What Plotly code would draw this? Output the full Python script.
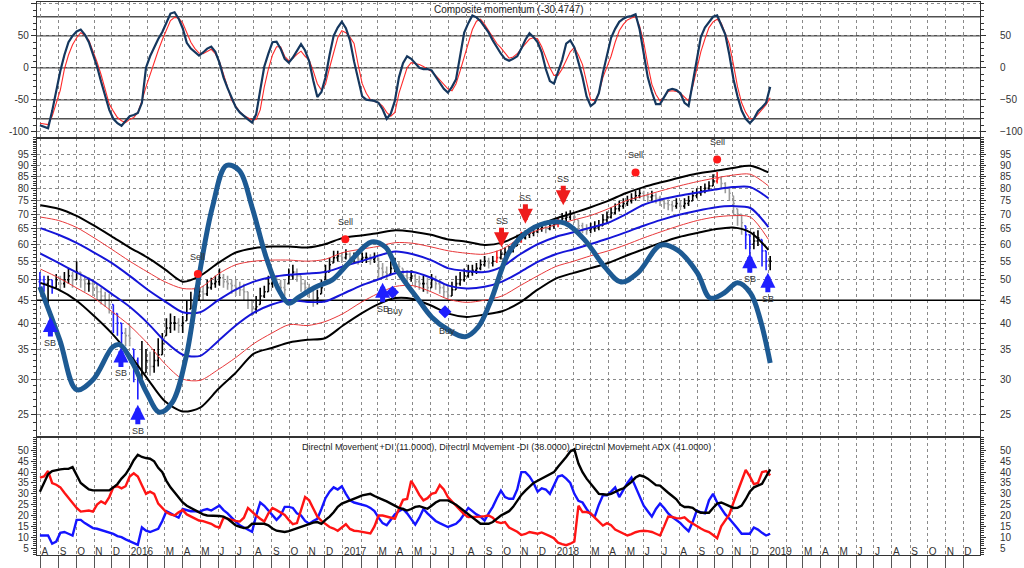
import numpy as np
import pandas as pd
import plotly.graph_objects as go

FONT = "Liberation Sans, Arial, sans-serif"

# ---------------- time axes ----------------
WEEKS = pd.date_range("2015-07-31", periods=180, freq="7D")
BAND_MONTHS = pd.date_range("2015-08-01", "2019-01-01", freq="MS")
AXIS_MONTHS = pd.date_range("2015-08-01", "2019-12-01", freq="MS")
MONTH_LETTERS = ["J", "F", "M", "A", "M", "J", "J", "A", "S", "O", "N", "D"]
X_RANGE = ["2015-07-26", "2019-12-30"]

# ---------------- composite momentum ----------------
MOM = [-90, -92, -95, -68, -35, -5, 20, 40, 50, 57,
       60, 52, 40, 22, 2, -22, -46, -66, -80, -87,
       -91, -83, -76, -74, -71, -55, 0, 18, 33, 45,
       56, 70, 85, 87, 77, 62, 39, 30, 24, 19,
       24, 30, 33, 25, 8, -15, -32, -48, -62, -70,
       -76, -81, -86, -73, -35, 2, 22, 40, 41, 30,
       14, 8, 16, 27, 37, 27, 10, -20, -46, -38,
       -15, 20, 50, 63, 72, 62, 43, 10, -20, -45,
       -50, -51, -52, -55, -65, -80, -72, -52, -15, 7,
       18, 14, 7, 0, -2, -2, -4, -14, -24, -33,
       -39, -30, -18, 20, 55, 70, 82, 79, 73, 64,
       55, 43, 32, 22, 14, 11, 14, 18, 30, 44,
       54, 48, 40, 24, -2, -21, -25, -5, 12, 38,
       43, 32, 8, -15, -45, -60, -55, -40, -8, 18,
       47, 61, 72, 77, 80, 81, 84, 60, 20, -15,
       -38, -57, -57, -47, -35, -33, -35, -40, -55, -60,
       -25, 8, 48, 63, 72, 80, 82, 68, 52, 20,
       -18, -45, -67, -80, -87, -80, -68, -62, -55, -30]
MOM_SIGNAL = [-87, -88, -89, -76, -57, -35, -2, 20, 36, 47,
              55, 51, 43, 27, 9, -11, -35, -57, -68, -78,
              -83, -86, -81, -78, -70, -52, -30, -10, 10, 27,
              44, 60, 74, 79, 78, 70, 54, 40, 30, 23,
              22, 26, 29, 22, 10, -10, -30, -51, -60, -69,
              -75, -79, -82, -81, -66, -30, -2, 20, 33, 33,
              18, 11, 15, 21, 26, 18, 12, -5, -25, -35,
              -26, 0, 25, 47, 58, 55, 48, 38, 5, -25,
              -40, -50, -53, -55, -60, -70, -76, -70, -40, -18,
              0, 8, 7, 5, 2, -2, -6, -12, -19, -27,
              -33, -36, -25, -5, 18, 40, 60, 73, 76, 68,
              58, 48, 38, 31, 22, 15, 17, 22, 30, 38,
              45, 47, 45, 33, 15, 0, -12, -12, -2, 11,
              25, 32, 20, 5, -25, -50, -52, -40, -15, 2,
              18, 40, 58, 68, 75, 78, 80, 65, 40, 5,
              -26, -42, -52, -46, -37, -36, -37, -40, -46, -52,
              -30, 0, 25, 45, 63, 72, 76, 70, 55, 37,
              5, -30, -55, -70, -80, -80, -73, -65, -58, -47]
MOM_LEVELS = [80, 50, 0, -50, -80]
MOM_TITLE = "Composite momentum (-30.4747)"

# ---------------- weekly price bars ----------------
OPEN = [49.5, 50, 49, 50, 48, 50, 49, 50, 51, 50,
        52, 50, 49, 49, 48, 47, 46, 45, 44, 42,
        40, 38, 37.5, 35, 33, 30, 31, 33, 32, 33,
        34, 37.5, 39, 40, 40, 39.5, 40.5, 43, 45, 46,
        47, 46.5, 48, 49, 49.5, 50.5, 49.5, 49, 48.5, 48,
        47.5, 47, 45, 43, 44, 46, 47, 49, 50, 49,
        48, 49, 51, 52, 51, 49, 48, 47.5, 45, 46.5,
        50, 52, 54.5, 56, 56.5, 56, 57, 56, 56, 55.5,
        56, 56, 55.5, 56, 53, 52, 51.5, 53, 54, 53,
        51, 50.5, 51, 49.5, 49, 49, 48, 50, 49, 48,
        47, 46, 47.5, 49, 50, 51, 52, 52.5, 53, 54,
        55, 54.5, 55, 56, 57, 57.5, 58, 59.5, 61, 62,
        63, 63.5, 64, 65, 65.5, 65, 66, 66.5, 67, 68.5,
        69, 70, 68, 66, 65, 64.5, 65, 65.5, 66, 68,
        69, 70.5, 72, 73, 74, 75, 76, 77, 78, 77,
        76.5, 77, 76, 75, 74, 73.5, 73, 74, 73, 74,
        75, 77, 78, 79, 80, 81, 83, 84, 82, 80,
        77, 72, 70, 66, 63, 60, 61, 61.5, 58, 55]
HIGH = [52, 51, 51, 50, 51.5, 51, 52, 53, 52, 55,
        52, 51, 50.5, 50, 49, 48, 47, 46.5, 44, 42,
        40, 39, 39.5, 35, 33.5, 36.5, 35, 34.5, 35, 37,
        38, 41, 42, 41.5, 41, 41.5, 45, 47, 48, 49,
        48.5, 50, 50.5, 51, 53, 51.5, 51, 50, 50, 49.5,
        49, 47, 45, 46, 48, 48.5, 51, 52, 51, 50,
        50, 53, 54, 53, 51, 50, 49, 47.5, 47.5, 50,
        54, 56, 58, 58, 57.5, 58.5, 57.5, 57.5, 57, 57.5,
        57.5, 57, 57.5, 56, 54.5, 53.5, 55, 56, 55, 53,
        52.5, 52.5, 51.5, 51, 51, 50.5, 51.5, 51, 50, 49,
        48.5, 49.5, 51, 52, 53, 54, 54, 54.5, 55.5, 56.5,
        56, 56.5, 58, 58.5, 59, 59.5, 60.5, 63, 64, 64.5,
        65, 65.5, 66.5, 67, 66.5, 67.5, 68, 69, 70.5, 71,
        71.5, 70.5, 68, 67, 66.5, 67, 67.5, 68, 70, 71,
        72.5, 74, 75, 76, 77, 78, 79, 80, 79, 78.5,
        79, 78, 77, 75.5, 75.5, 75, 76, 75, 76, 77,
        79, 80, 81, 82, 83, 86, 87, 85, 82.5, 80.5,
        77, 72, 70, 66, 63, 64, 64.5, 61.5, 58, 56.5]
LOW = [47, 47, 43, 46.5, 48, 47, 48, 49, 48, 50,
       48, 47, 47, 46, 45, 44, 43.5, 42, 38, 37.5,
       36, 35.5, 35.5, 29.5, 27, 30, 31, 30.5, 31, 32,
       34, 37.5, 38, 38.5, 38, 38, 40.5, 43, 44.5, 45,
       45, 46, 47.5, 48, 48.5, 48, 47.5, 46.5, 46, 46,
       45, 43, 41.5, 42, 44, 45.5, 47, 48, 47.5, 46.5,
       46, 49, 50, 49.5, 47, 46.5, 45.5, 43.5, 44, 46.5,
       50, 52, 54.5, 55, 54.5, 55.5, 54.5, 54.5, 54, 54.5,
       54.5, 54, 54.5, 50.5, 50.5, 50, 51.5, 52, 52, 49.5,
       49, 49.5, 48, 47.5, 47, 46.5, 48, 47.5, 46.5, 45.5,
       45, 46, 47.5, 48.5, 49.5, 50.5, 51, 51.5, 52.5, 53.5,
       53, 53.5, 54.5, 55.5, 56, 56.5, 57.5, 59.5, 60.5, 61.5,
       62, 62.5, 63.5, 64, 63.5, 64.5, 65, 65.5, 67, 67.5,
       68, 67, 64, 63.5, 63, 63.5, 64, 64.5, 66, 67,
       68.5, 70, 71, 72, 73, 74, 75, 76, 75, 74.5,
       75, 74, 73, 72, 71.5, 71, 72, 71.5, 72, 73,
       75, 76, 77, 78, 79, 81, 82, 80, 78, 75,
       70, 66, 63, 58.5, 57, 58.5, 59.5, 53.5, 52.5, 52.5]
CLOSE = [50, 49, 50, 48, 50, 49, 50, 51, 50, 52,
         50, 49, 49, 48, 47, 46, 45, 44, 42, 40,
         38, 37.5, 37, 33, 30, 31, 33, 32, 33, 34,
         36, 39, 40, 40, 39.5, 40, 42, 45, 46, 47,
         46.5, 48, 49, 49.5, 50.5, 49.5, 49, 48.5, 48, 47.5,
         47, 45, 43, 43.5, 46, 47, 49, 50, 49, 48,
         47.5, 51, 52, 51, 49, 48, 47.5, 45, 45.5, 48,
         52, 54, 56, 56.5, 56, 57, 56, 56, 55.5, 56,
         56, 55.5, 56, 53, 52, 51.5, 53, 54, 53.5, 51,
         50.5, 51, 49.5, 49, 49, 48, 50, 49, 48, 47,
         46, 47.5, 49, 50, 51, 52, 52.5, 53, 54, 55,
         54.5, 55, 56, 57, 57.5, 58, 59, 61, 62, 63,
         63.5, 64, 65, 65.5, 65, 66, 66.5, 67, 68.5, 69,
         70, 69, 66, 65, 64.5, 65, 65.5, 66, 68, 69,
         70.5, 72, 73, 74, 75, 76, 77, 78, 77, 76.5,
         77, 76, 75, 74, 73.5, 73, 74, 73, 74, 75,
         77, 78, 79, 80, 81, 83, 84, 82, 80, 78,
         74, 70, 67, 63, 60, 61, 62, 58, 55, 55]
# bar state: k = up, g = down, b = buy zone, r = sell zone
BAR_STATE = ("bbkbkgkkgk" "ggkgggggbb" "bggbbkkgkk" "kkkkgkkkkk" "gkkkkggggg"
             "gggkkkkkgg" "gkkgggggkk" "kkkkgkgkgk" "kgkgggkkgg" "gkggkgkggg"
             "gkkkkkkkkk" "gkrkkkkkrk" "kkkkgkkrkk" "kggggkkkkk" "kkkkkkkkgg"
             "kgggggkgkk" "kkkkkkrggg" "gggbbkkbbk")

# ---------------- envelope bands (monthly) ----------------
BAND_OUTER_UP = [73.3, 72, 69.5, 66, 62.5, 59, 56, 52.8, 49.5, 51, 54.5, 57.5, 58.8, 59.3,
                 59.3, 59, 60, 62, 62.8, 63.5, 64.5, 64, 63, 61.5, 60.8, 59.8, 60.5, 63, 66,
                 68.5, 70.5, 72.5, 75, 78, 80.5, 82.5, 84.5, 86.3, 87.5, 88.8, 89.8, 86.8]
BAND_MID_UP = [69, 67.8, 65.5, 62, 58.5, 55, 52, 49.5, 47.8, 48, 51.5, 54, 55, 55.3, 55.3,
               55, 55.5, 57.5, 58.5, 59.3, 60.5, 60.3, 59.2, 58, 57.3, 57, 58.5, 62, 64.5,
               66.3, 68, 69.5, 72, 75, 77, 79, 81, 82.8, 84.3, 85.6, 86, 81]
BAND_IN_UP = [65.2, 63, 60.5, 57.5, 54.5, 51, 47.5, 44.8, 42.3, 42.3, 45, 47.5, 49.5, 50.7,
              51.3, 51.6, 52, 53.5, 55, 56.5, 57.8, 57, 55.3, 53, 52.3, 52, 53.5, 57, 60,
              62.3, 63.8, 65.3, 67, 70, 73.5, 75.5, 77, 78.3, 79.5, 80.5, 80.5, 76]
BAND_IN_LOW = [57.2, 54.5, 52, 49.5, 46.5, 43.5, 40, 36.5, 34, 33.8, 36.5, 39.5, 42.2, 44,
               45, 44.6, 44.7, 46.5, 48.5, 50, 51.7, 52, 50.5, 48.5, 47.8, 48.2, 49.5, 52,
               54.8, 57, 58.5, 60, 61.8, 63.8, 66, 68, 69.8, 71.3, 72.5, 73, 72.3, 65.5]
BAND_MID_LOW = [52.8, 50.5, 48, 45.5, 42.5, 39.5, 36, 32.5, 30, 29.8, 31.5, 33.5, 36, 38,
                39.7, 39.5, 40.3, 42, 44.5, 46.5, 48.3, 48.5, 47, 45.2, 44.5, 45, 46, 48.5,
                51, 53.5, 55, 56.5, 58, 59.8, 62, 64, 66, 67.8, 69, 69.5, 69, 61.5]
BAND_OUTER_LOW = [49.2, 47.5, 45, 41.5, 38, 34, 30, 26.8, 25.4, 25.9, 28.5, 31, 34.2, 35.2,
                  36.2, 36.7, 37, 39.5, 42, 44, 45.5, 45.3, 43.8, 42, 41.3, 41.8, 42.5, 44.5,
                  47.5, 50.3, 51.8, 53, 54.5, 56.5, 58.5, 60.5, 62.3, 63.6, 64.8, 65.4, 63.8, 58.3]

# ---------------- thick cycle curve ----------------
CYCLE_DATES = ["2015-07-31", "2015-09-03", "2015-10-02", "2015-10-30", "2015-12-03", "2015-12-15",
               "2016-01-06", "2016-01-30", "2016-02-21", "2016-03-14", "2016-04-07", "2016-04-30",
               "2016-05-22", "2016-06-15", "2016-07-07", "2016-07-29", "2016-08-22", "2016-09-13",
               "2016-09-30", "2016-10-18", "2016-11-16", "2016-12-13", "2017-01-11", "2017-02-19",
               "2017-03-15", "2017-04-06", "2017-05-11", "2017-06-02", "2017-07-01", "2017-07-30",
               "2017-08-21", "2017-09-12", "2017-10-12", "2017-11-10", "2017-12-14", "2018-01-17",
               "2018-02-20", "2018-03-26", "2018-04-23", "2018-05-22", "2018-06-30", "2018-07-29",
               "2018-09-01", "2018-09-23", "2018-10-17", "2018-11-09", "2018-12-01", "2018-12-18",
               "2019-01-04"]
CYCLE_VALUES = [48.2, 36.7, 28.4, 29.9, 35.4, 35.8, 32.6, 28.0, 25.3, 26.6, 33.7, 51.8,
                72.6, 90, 87.7, 72.6, 56.2, 47.4, 44.3, 45.8, 48.2, 49.9, 54.5, 60.7,
                59.1, 52, 45, 41.3, 38.6, 37.3, 39.2, 45, 57.3, 63.5, 66.9, 66.9,
                61.3, 53.4, 49.4, 51.8, 59.7, 58.2, 51.8, 45.5, 46.7, 49.2, 46.7, 40.7, 32.6]
BASE_LEVEL = 45

# ---------------- signals ----------------
SELL_DATES = ["2016-04-27", "2017-01-05", "2018-05-18", "2018-10-05"]
SELL_VALUES = [51.5, 61.6, 86.8, 92.8]
BUY_DATES = ["2017-03-27", "2017-06-25"]
BUY_VALUES = [46.9, 42.4]
SB_DATES = ["2015-08-18", "2015-12-17", "2016-01-15", "2017-03-10", "2018-11-30", "2018-12-31"]
SB_VALUES = [41.3, 35.3, 26.3, 49.2, 57.3, 51.8]
SS_DATES = ["2017-09-30", "2017-11-10", "2018-01-14"]
SS_VALUES = [59.1, 66.7, 73.3]

# ---------------- directional movement ----------------
ADX = [31, 35, 39, 40.5, 41, 41.3, 41.5, 41.5, 42.3, 38.5,
       35, 33.5, 32, 31.6, 31.6, 31.6, 31.6, 31.6, 33, 34.5,
       37, 39, 42, 45.5, 48, 47, 46.5, 46.2, 45, 42,
       40, 36, 33, 30.5, 28, 26, 24.5, 23.5, 22.5, 21.5,
       20.5, 20, 20, 20, 19.8, 19.5, 18.5, 17, 15.4, 14.8,
       14.2, 14.5, 16.2, 16.2, 16.2, 16.2, 15.5, 14, 13, 12.8,
       12.4, 12.8, 13.5, 14.2, 14.8, 15.4, 16, 16.7, 17, 16.2,
       18, 19.5, 21.5, 24, 25.5, 26.2, 26.8, 27.5, 28.5, 29.3,
       29.6, 30, 29, 28, 27.3, 26.5, 25.5, 24.6, 23.5, 23,
       22.3, 23, 24, 24.3, 23.8, 23.1, 24.5, 26, 27, 27,
       27, 26, 25, 23.5, 22, 20.5, 19, 17.5, 16.2, 16.2,
       16.2, 17, 18.5, 20, 21, 22, 24, 27, 29.5, 31.5,
       33.5, 35, 36, 37, 37.8, 38.7, 40, 42.5, 44.6, 47,
       49.5, 50.5, 44, 40, 37, 34.5, 32, 30, 29.8, 29.6,
       30, 31, 31.8, 32.5, 34, 35.5, 37.5, 38.5, 38, 37,
       35.5, 34, 33.8, 32, 30.5, 29, 27.5, 25, 23.9, 23.9,
       23.5, 22, 21.3, 21.3, 21.3, 23.5, 25.5, 26, 25.2, 24.5,
       23.5, 23.6, 24.6, 27.5, 31, 33, 33.8, 34.6, 38, 41.3]
PLUS_DI = [10.8, 10.8, 10.8, 7, 8, 12, 12.4, 11.6, 10.8, 18,
           18, 16.5, 15.4, 14.2, 13.9, 13.3, 13, 12.4, 11.5, 10.5,
           10, 9, 8.2, 7.2, 6.5, 14.5, 13, 12.4, 13, 13.9,
           17.5, 22, 21, 20, 19, 23, 22.5, 22, 22, 21.6,
           22.5, 23, 22.3, 23.5, 24.6, 22.5, 21, 19, 17, 15.5,
           14.5, 13.5, 12.5, 20, 26, 24.5, 22.5, 20, 18, 20,
           24, 24, 23.5, 21, 20, 17.5, 16.2, 17.5, 18.5, 23,
           28, 31, 33, 32, 33.5, 30, 27, 26, 25.5, 25,
           24.5, 23.5, 22, 19, 16.5, 15.5, 18, 20.5, 22, 23,
           21, 18.5, 15.8, 19, 23, 21, 19, 17.5, 16.5, 15.5,
           14.7, 15.5, 16.2, 18, 21, 23.5, 22, 20.5, 19.5, 17.7,
           21, 24, 28, 31.5, 28.5, 27.7, 27.7, 32, 40, 40,
           38, 35, 31, 32.5, 32, 30, 34, 38, 38.5, 37,
           35, 30, 26.8, 26, 23, 20.5, 19.5, 25, 29.3, 29.3,
           31, 33, 28.5, 32, 35, 37.5, 33, 29, 24.5, 22,
           19.5, 23, 25.5, 23.5, 21, 19.3, 18, 16.5, 14.5, 12.8,
           17, 22.3, 21.5, 21, 27, 30, 26, 23, 20.5, 18.5,
           16, 14, 11.6, 11.6, 11.6, 14.5, 13.5, 12, 10.8, 11.6]
MINUS_DI = [37.5, 38, 40.5, 35, 34.2, 33, 30.5, 28, 26, 23.5,
            21.8, 22, 22.3, 21.8, 25, 26.5, 25.5, 28.5, 33, 33.5,
            32.5, 33.5, 38, 39.5, 38, 34, 30, 31, 30, 25.5,
            23.5, 21.5, 20.5, 20, 21.5, 22.5, 20.5, 19.5, 18.5, 17.7,
            17.4, 16.8, 16.2, 15, 14.5, 19, 18.5, 17.7, 17.5, 17.2,
            19, 23.5, 21.5, 20, 18.5, 17.2, 21, 23.5, 22.5, 21.5,
            20.3, 18, 16, 16.5, 22, 28.5, 27, 23.5, 19.5, 17.5,
            16.2, 14.7, 14, 13, 14.5, 16, 13.8, 13, 12.8, 12.5,
            12.2, 11.7, 15, 20, 20, 19.6, 19, 18.5, 23, 27.2,
            27.6, 36, 33, 29.5, 27, 28, 30, 30.5, 34, 32,
            28.5, 26.5, 24.5, 22.5, 20.5, 19.3, 19.3, 19.3, 19.5, 19.7,
            20, 19, 17, 16.5, 17, 14.5, 13.5, 12.5, 11, 11.5,
            12.4, 12, 11.6, 12.2, 11.5, 10.5, 9.5, 7.5, 6.8, 6.3,
            7, 8, 24.5, 21.6, 21.6, 21, 19, 17, 15.4, 16.5,
            15.5, 13.5, 12.5, 11.5, 10.8, 11.4, 12.3, 12.8, 13, 12.8,
            12.4, 11.6, 10.8, 15, 19.5, 19.3, 18.8, 18.7, 19.2, 17.5,
            16.2, 15, 14, 13, 12.4, 11, 9.5, 15, 18, 20.5,
            26, 31, 36, 41, 38, 34.5, 35, 40, 40.5, 38.5]
DMI_TITLE = ("Directnl Movement +DI (11.0000), Directnl Movement -DI (38.0000), "
             "Directnl Movement ADX (41.0000)")

# ---------------- styling ----------------
C_NAVY = "#15375e"
C_SIG = "#ff2b2b"
C_BAND_BLACK = "#000000"
C_BAND_RED = "#e8383a"
C_BAND_BLUE = "#1515d8"
C_CYCLE = "#1d5a93"
C_GRID = "#8a8a8a"
C_AXIS = "#333333"
BAR_COLORS = {"k": "#000000", "g": "#9c9c9c", "b": "#1f1fff", "r": "#ff2020"}

fig = go.Figure()

# ---- top panel: composite momentum ----
fig.add_trace(go.Scatter(x=WEEKS, y=MOM_SIGNAL, xaxis="x3", yaxis="y3", mode="lines",
                         line=dict(color=C_SIG, width=1.1), hoverinfo="skip"))
fig.add_trace(go.Scatter(x=WEEKS, y=MOM, xaxis="x3", yaxis="y3", mode="lines",
                         line=dict(color=C_NAVY, width=2.2)))
fig.add_trace(go.Scatter(x=WEEKS, y=MOM, xaxis="x3", yaxis="y6", mode="lines",
                         line=dict(width=0), opacity=0, hoverinfo="skip"))

# ---- middle panel ----
fig.add_trace(go.Scatter(x=[X_RANGE[0], X_RANGE[1]], y=[BASE_LEVEL, BASE_LEVEL], xaxis="x2", yaxis="y2",
                         mode="lines", line=dict(color="#000000", width=1.6), hoverinfo="skip"))
for vals, col, w in [(BAND_OUTER_UP, C_BAND_BLACK, 2), (BAND_MID_UP, C_BAND_RED, 1),
                     (BAND_IN_UP, C_BAND_BLUE, 2), (BAND_IN_LOW, C_BAND_BLUE, 2),
                     (BAND_MID_LOW, C_BAND_RED, 1), (BAND_OUTER_LOW, C_BAND_BLACK, 2)]:
    fig.add_trace(go.Scatter(x=BAND_MONTHS, y=vals, xaxis="x2", yaxis="y2", mode="lines",
                             line=dict(color=col, width=w, shape="spline", smoothing=0.8)))

states = np.array(list(BAR_STATE))
for key, col in BAR_COLORS.items():
    idx = np.where(states == key)[0]
    fig.add_trace(go.Ohlc(x=WEEKS[idx], open=np.array(OPEN)[idx], high=np.array(HIGH)[idx],
                          low=np.array(LOW)[idx], close=np.array(CLOSE)[idx],
                          xaxis="x2", yaxis="y2", tickwidth=0.35,
                          increasing=dict(line=dict(color=col, width=1.6)),
                          decreasing=dict(line=dict(color=col, width=1.6))))

fig.add_trace(go.Scatter(x=CYCLE_DATES, y=CYCLE_VALUES, xaxis="x2", yaxis="y2", mode="lines",
                         line=dict(color=C_CYCLE, width=5, shape="spline", smoothing=1.0)))
fig.add_trace(go.Scatter(x=SELL_DATES, y=SELL_VALUES, xaxis="x2", yaxis="y2", mode="markers",
                         marker=dict(color="#ff1a1a", size=8, symbol="circle")))
fig.add_trace(go.Scatter(x=BUY_DATES, y=BUY_VALUES, xaxis="x2", yaxis="y2", mode="markers",
                         marker=dict(color="#1f1fff", size=10, symbol="diamond")))
fig.add_trace(go.Scatter(x=CYCLE_DATES, y=CYCLE_VALUES, xaxis="x2", yaxis="y5", mode="lines",
                         line=dict(width=0), opacity=0, hoverinfo="skip"))

# ---- bottom panel: DMI ----
fig.add_trace(go.Scatter(x=WEEKS, y=PLUS_DI, mode="lines", line=dict(color="#1414ff", width=2.4)))
fig.add_trace(go.Scatter(x=WEEKS, y=MINUS_DI, mode="lines", line=dict(color="#ff1414", width=2.4)))
fig.add_trace(go.Scatter(x=WEEKS, y=ADX, mode="lines", line=dict(color="#000000", width=2.4)))
fig.add_trace(go.Scatter(x=WEEKS, y=ADX, yaxis="y4", mode="lines",
                         line=dict(width=0), opacity=0, hoverinfo="skip"))

# ---------------- axes ----------------
x_labels = []
for d in AXIS_MONTHS:
    if d.month == 1:
        x_labels.append(str(d.year))
    elif d.month == 2:
        x_labels.append("")
    else:
        x_labels.append(MONTH_LETTERS[d.month - 1])

tickfont = dict(family=FONT, size=10, color="#333333")
grid = dict(showgrid=True, gridcolor=C_GRID, griddash="3px,3px", gridwidth=1)
frame = dict(showline=True, linecolor=C_AXIS, linewidth=1.2, mirror=True, zeroline=False)

TOP_DOM = [0.754, 1.0]
MID_DOM = [0.2126, 0.754]
BOT_DOM = [0.0, 0.2126]

xcommon = dict(type="date", range=X_RANGE, tickmode="array", tickvals=AXIS_MONTHS, **grid, **frame)

MOM_RANGE = [-110.2, 103.1]
PRICE_RANGE = [np.log10(22.22), np.log10(103.6)]
DMI_RANGE = [1.8, 56]
price_ticks = list(range(25, 100, 5))
dmi_ticks = list(range(5, 55, 5))

def yleft(**kw):
    d = dict(ticks="outside", ticklen=5, tickcolor=C_AXIS, tickfont=tickfont, **frame)
    d.update(kw)
    return d

def yright(**kw):
    d = dict(side="right", ticks="outside", ticklen=5, tickcolor=C_AXIS, tickfont=tickfont,
             showgrid=False, zeroline=False, showline=False, ticklabelstandoff=12)
    d.update(kw)
    return d

fig.update_layout(
    width=1024, height=568,
    margin=dict(l=37, r=37, t=1, b=12),
    paper_bgcolor="white", plot_bgcolor="white",
    showlegend=False,
    font=dict(family=FONT, size=10, color="#333333"),
    xaxis=dict(domain=[0, 1], anchor="y", ticktext=x_labels, ticks="outside", ticklen=12,
               tickcolor="#555555", ticklabelposition="outside right", ticklabelstandoff=-13,
               tickangle=0, ticklabeloverflow="allow",
               tickfont=dict(family=FONT, size=10, color="#333333"),
               rangeslider=dict(visible=False), **xcommon),
    xaxis2=dict(domain=[0, 1], anchor="y2", matches="x", showticklabels=False, ticks="",
                rangeslider=dict(visible=False), **xcommon),
    xaxis3=dict(domain=[0, 1], anchor="y3", matches="x", showticklabels=False, ticks="",
                rangeslider=dict(visible=False), **xcommon),
    yaxis3=yleft(domain=TOP_DOM, anchor="x3", range=MOM_RANGE, tickmode="array",
                 tickvals=[-100, -50, 0, 50, 100], ticktext=["-100", "-50", "0", "50", ""],
                 minor=dict(dtick=10, ticks="outside", ticklen=3, tickcolor=C_AXIS), **grid),
    yaxis6=yright(overlaying="y3", anchor="x3", range=MOM_RANGE, tickmode="array",
                  tickvals=[-100, -50, 0, 50],
                  minor=dict(dtick=10, ticks="outside", ticklen=3, tickcolor=C_AXIS)),
    yaxis2=yleft(domain=MID_DOM, anchor="x2", type="log", range=PRICE_RANGE, tickmode="array",
                 tickvals=price_ticks, ticktext=[str(v) for v in price_ticks],
                 minor=dict(tickmode="array", tickvals=list(range(23, 104)), ticks="outside",
                            ticklen=3, tickcolor=C_AXIS), **grid),
    yaxis5=yright(overlaying="y2", anchor="x2", type="log", range=PRICE_RANGE, tickmode="array",
                  tickvals=price_ticks, ticktext=[str(v) for v in price_ticks],
                  minor=dict(tickmode="array", tickvals=list(range(23, 104)), ticks="outside",
                             ticklen=3, tickcolor=C_AXIS)),
    yaxis=yleft(domain=BOT_DOM, anchor="x", range=DMI_RANGE, tickmode="array", tickvals=dmi_ticks,
                showgrid=False, minor=dict(dtick=1, ticks="outside", ticklen=3, tickcolor=C_AXIS)),
    yaxis4=yright(overlaying="y", anchor="x", range=DMI_RANGE, tickmode="array", tickvals=dmi_ticks,
                  minor=dict(dtick=1, ticks="outside", ticklen=3, tickcolor=C_AXIS)),
)

# momentum reference levels
for lv in MOM_LEVELS:
    fig.add_shape(type="line", xref="x3 domain", yref="y3", x0=0, x1=1, y0=lv, y1=lv,
                  line=dict(color="#505050", width=1.5), layer="below")

# ---------------- annotations ----------------
ann = []
ann.append(dict(text=MOM_TITLE, xref="paper", yref="paper", x=0.5, y=0.987, showarrow=False,
                font=dict(family=FONT, size=10, color="#222222"), xanchor="center", yanchor="middle"))
ann.append(dict(text=DMI_TITLE, xref="paper", yref="paper", x=0.498, y=0.196, showarrow=False,
                font=dict(family=FONT, size=9, color="#222222"), xanchor="center", yanchor="middle"))
for d, v in zip(SB_DATES, SB_VALUES):
    ann.append(dict(x=d, y=np.log10(v), xref="x2", yref="y2", text="SB", showarrow=True,
                    arrowhead=2, arrowsize=0.6, arrowwidth=5, arrowcolor="#1f1fff", ax=0, ay=26,
                    standoff=0, font=dict(family=FONT, size=9, color="#333333")))
for d, v in zip(SS_DATES, SS_VALUES):
    ann.append(dict(x=d, y=np.log10(v), xref="x2", yref="y2", text="SS", showarrow=True,
                    arrowhead=2, arrowsize=0.6, arrowwidth=5, arrowcolor="#ee1c1c", ax=0, ay=-26,
                    standoff=0, font=dict(family=FONT, size=9, color="#333333")))
for d, v in zip(SELL_DATES, SELL_VALUES):
    ann.append(dict(x=d, y=np.log10(v), xref="x2", yref="y2", text="Sell", showarrow=False,
                    yshift=17, font=dict(family=FONT, size=9, color="#333333")))
for d, v in zip(BUY_DATES, BUY_VALUES):
    ann.append(dict(x=d, y=np.log10(v), xref="x2", yref="y2", text="Buy", showarrow=False,
                    yshift=-19, xshift=2, font=dict(family=FONT, size=9, color="#333333")))
fig.update_layout(annotations=ann)

fig.write_html("out.html", config={"displayModeBar": False},
               post_script="document.body.style.margin='0px';document.body.style.overflow='hidden';")
